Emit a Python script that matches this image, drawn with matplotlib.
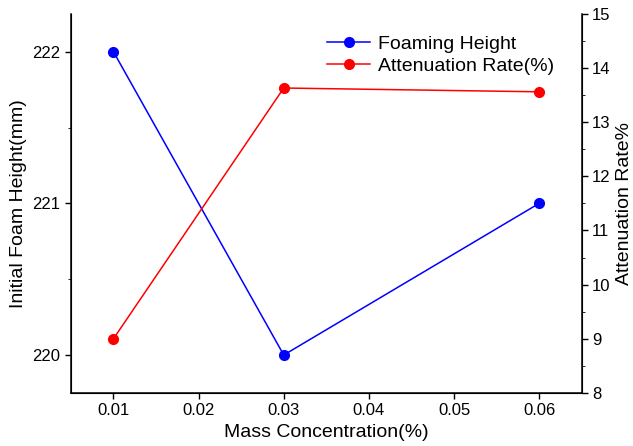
import matplotlib.pyplot as plt
from matplotlib.ticker import MultipleLocator

plt.rcParams['font.family'] = ['Liberation Sans', 'DejaVu Sans']

conc = [0.01, 0.03, 0.06]
foam_height = [222, 220, 221]
atten_rate = [9.0, 13.63, 13.56]

fig, ax = plt.subplots(figsize=(6.33, 4.46), dpi=100)
fig.subplots_adjust(left=0.112, right=0.919, top=0.969, bottom=0.119)
ax2 = ax.twinx()

l1, = ax.plot(conc, foam_height, color='blue', marker='o', markersize=7, linewidth=1.1, label='Foaming Height')
l2, = ax2.plot(conc, atten_rate, color='red', marker='o', markersize=7, linewidth=1.1, label='Attenuation Rate(%)')

ax.set_xlim(0.005, 0.065)
ax.set_ylim(219.75, 222.25)
ax2.set_ylim(8, 15)
ax.set_xticks([0.01, 0.02, 0.03, 0.04, 0.05, 0.06])
ax.set_yticks([220, 221, 222])
ax.yaxis.set_minor_locator(MultipleLocator(0.5))
ax2.yaxis.set_major_locator(MultipleLocator(1))
ax2.yaxis.set_minor_locator(MultipleLocator(0.5))

for a in (ax, ax2):
    a.spines['top'].set_visible(False)
    a.tick_params(direction='out', labelsize=12, width=1, length=4)
    a.tick_params(which='minor', direction='out', length=2.5)
for s in ('left', 'bottom'):
    ax.spines[s].set_linewidth(1.1)
ax2.spines['right'].set_linewidth(1.1)

ax.set_xlabel('Mass Concentration(%)', fontsize=14)
ax.set_ylabel('Initial Foam Height(mm)', fontsize=14)
ax2.set_ylabel('Attenuation Rate%', fontsize=14)

ax.legend(handles=[l1, l2], loc='upper right', bbox_to_anchor=(0.98, 0.99), frameon=False, fontsize=14,
          handlelength=2.2, handletextpad=0.4, labelspacing=0.25)

fig.savefig('out.png')
